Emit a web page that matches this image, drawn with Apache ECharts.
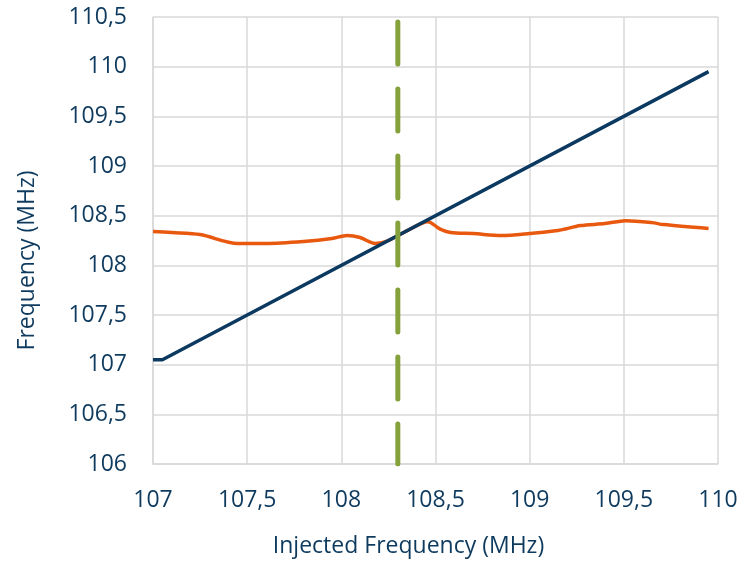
<!DOCTYPE html>
<html><head><meta charset="utf-8">
<script src="https://cdn.jsdelivr.net/npm/echarts@6/dist/echarts.min.js"></script>
<style>html,body{margin:0;padding:0;background:#fff}#c{width:743px;height:563px}</style>
</head><body><div id="c"></div>
<script>
// Blue: measured output frequency
const blueX = [107.00, 107.05, 109.95];
const blueY = [107.05, 107.05, 109.95];
// Orange: second measured frequency
const orangeX = [107.00, 107.10, 107.25, 107.45, 107.60, 107.80, 107.95, 108.03, 108.10, 108.18, 108.25, 108.35, 108.46, 108.52, 108.58, 108.70, 108.85, 109.00, 109.15, 109.27, 109.40, 109.51, 109.65, 109.71, 109.95];
const orangeY = [108.34, 108.33, 108.31, 108.22, 108.22, 108.24, 108.27, 108.30, 108.28, 108.22, 108.25, 108.35, 108.44, 108.37, 108.33, 108.32, 108.30, 108.32, 108.35, 108.40, 108.42, 108.45, 108.43, 108.41, 108.37];
// Green dashed marker
const markerX = [108.3, 108.3];
const markerY = [110.45, 106.0];

const xTicks = [107, 107.5, 108, 108.5, 109, 109.5, 110];
const yTicks = [106, 106.5, 107, 107.5, 108, 108.5, 109, 109.5, 110, 110.5];

const zip = (a, b) => a.map((v, i) => [v, b[i]]);
const fmt = v => String(v).replace('.', ',');
const txt = '#0E3A5E';
const font = '"Open Sans", sans-serif';

const chart = echarts.init(document.getElementById('c'));
chart.setOption({
  animation: false,
  grid: {left: 153, right: 25, top: 17, bottom: 97, containLabel: false},
  xAxis: {
    type: 'value', min: xTicks[0], max: xTicks[xTicks.length - 1], interval: 0.5,
    name: 'Injected Frequency (MHz)', nameLocation: 'middle', nameGap: 71,
    nameTextStyle: {color: txt, fontSize: 23, fontFamily: font, padding: [0, 54, 0, 0]},
    axisLine: {show: true, lineStyle: {color: '#d9d9d9', width: 1.5}},
    axisTick: {show: false},
    axisLabel: {color: txt, fontSize: 23, fontFamily: font, margin: 25, formatter: fmt},
    splitLine: {show: true, lineStyle: {color: '#d9d9d9', width: 1.5}}
  },
  yAxis: {
    type: 'value', min: yTicks[0], max: yTicks[yTicks.length - 1], interval: 0.5,
    name: 'Frequency (MHz)', nameLocation: 'middle', nameGap: 114,
    nameTextStyle: {color: txt, fontSize: 23, fontFamily: font, padding: [0, 40, 0, 0]},
    axisLine: {show: true, lineStyle: {color: '#d9d9d9', width: 1.5}},
    axisTick: {show: false},
    axisLabel: {color: txt, fontSize: 23, fontFamily: font, margin: 26, formatter: fmt},
    splitLine: {show: true, lineStyle: {color: '#d9d9d9', width: 1.5}}
  },
  series: [
    {type: 'line', data: zip(orangeX, orangeY), smooth: 0.3, showSymbol: false,
     lineStyle: {color: '#E8590F', width: 3.5}},
    {type: 'line', data: zip(blueX, blueY), showSymbol: false,
     lineStyle: {color: '#0B3960', width: 3.5}},
    {type: 'line', data: zip(markerX, markerY), showSymbol: false,
     lineStyle: {color: '#84A13B', width: 5, type: [42, 25], cap: 'round'}}
  ]
});
</script>
</body></html>
